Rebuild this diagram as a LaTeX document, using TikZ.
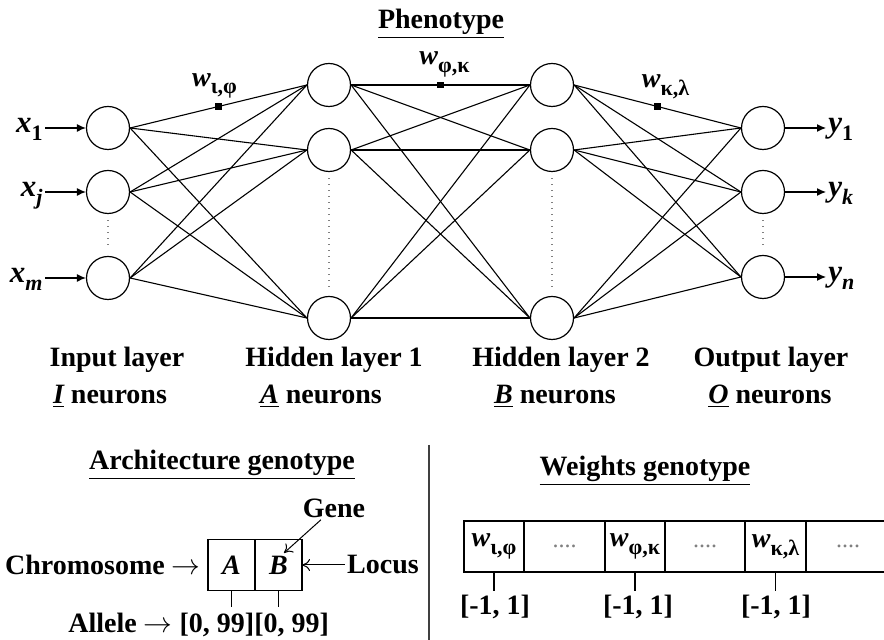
\documentclass[tikz,border=0pt]{standalone}
\usepackage{fontspec}
\setmainfont{Liberation Serif}
\usetikzlibrary{arrows.meta,positioning}
\newcommand{\lowsub}[1]{\raisebox{-3.8pt}{\fontsize{11}{11}\selectfont #1}}
\newcommand{\wlab}[1]{{\itshape w}\lowsub{#1}}
\newcommand{\celldots}{\textcolor{gray}{\mdseries\fontsize{12}{12}\selectfont....}}
\tikzset{
>=Latex,
neuron/.style={circle,draw,line width=0.6pt,minimum size=21.5pt,inner sep=0pt},
link/.style={line width=0.55pt},
feed/.style={-{Latex[length=4.5pt,width=4pt]},line width=0.6pt},
open arrow/.style={-{To[length=4pt,width=6pt]},line width=0.5pt},
gap/.style={gray,line width=0.7pt,dash pattern=on 0.7pt off 2.3pt,shorten >=3pt,shorten <=3pt},
weight mark/.style={fill,rectangle,minimum size=3.2pt,inner sep=0pt},
label text/.style={font=\fontsize{14}{16.5}\selectfont\bfseries,inner sep=1pt},
var text/.style={font=\fontsize{15.5}{17}\selectfont\bfseries,inner sep=1pt},
cell/.style={draw,line width=0.6pt,inner sep=0pt,outer sep=0pt,minimum height=25.5pt}}

\begin{document}
\begin{tikzpicture}[x=0.5pt,y=-0.5pt]
\path[use as bounding box,fill=white] (0,0) rectangle (884,640);

% the four layers
\foreach \n/\y in {1/128,2/192,3/278} \node[neuron] (i\n) at (108,\y) {};
\foreach \n/\y in {1/85,2/150,3/318} {
  \node[neuron] (h\n) at (329,\y) {};
  \node[neuron] (k\n) at (552,\y) {};
}
\foreach \n/\y in {1/128,2/192,3/277} \node[neuron] (o\n) at (763,\y) {};

\foreach \a in {1,2,3}
  \foreach \b in {1,2,3} {
    \draw[link] (i\a.east) -- (h\b.west);
    \draw[link] (h\a.east) -- (k\b.west);
    \draw[link] (k\a.east) -- (o\b.west);
  }

\draw[gap] (i2) -- (i3);
\draw[gap] (h2) -- (h3);
\draw[gap] (k2) -- (k3);
\draw[gap] (o2) -- (o3);

% weights on three of the links
\path (i1.east) -- node[weight mark] (m1) {} (h1.west);
\path (h1.east) -- node[weight mark] (m2) {} (k1.west);
\path (k1.east) -- node[weight mark] (m3) {} (o1.west);
\node[label text,above=1pt of m1,xshift=-2pt] (w1) {\wlab{ι,φ}};
\node[label text,above=1pt of m2,xshift=2pt] (w2) {\wlab{φ,κ}};
\node[label text,above=1pt of m3,xshift=4pt] (w3) {\wlab{κ,λ}};

% inputs and outputs
\node[var text,anchor=base east] (x1) at (45,133) {{\itshape x}\lowsub{1}};
\node[var text,anchor=base east] (x2) at (45,197) {{\itshape x}\lowsub{\itshape j}};
\node[var text,anchor=base east] (x3) at (45,283) {{\itshape x}\lowsub{\itshape m}};
\foreach \n in {1,2,3} \draw[feed] (x\n.east |- i\n) -- (i\n);

\node[var text,anchor=base west] (y1) at (826,133) {{\itshape y}\lowsub{1}};
\node[var text,anchor=base west] (y2) at (826,197) {{\itshape y}\lowsub{\itshape k}};
\node[var text,anchor=base west] (y3) at (826,282) {{\itshape y}\lowsub{\itshape n}};
\foreach \n in {1,2,3} \draw[feed] (o\n) -- (y\n.west |- o\n);

\node[label text] (pheno) at (441,24) {\underline{Phenotype}};

% layer names
\node[label text] (l1) at (117,360) {Input layer};
\node[label text] (l2) at (334,360) {Hidden layer 1};
\node[label text] (l3) at (561,360) {Hidden layer 2};
\node[label text] (l4) at (771,360) {Output layer};
\node[label text] (n1) at (110,396) {\underline{\itshape I} neurons};
\node[label text] (n2) at (321,396) {\underline{\itshape A} neurons};
\node[label text] (n3) at (555,396) {\underline{\itshape B} neurons};
\node[label text] (n4) at (770,396) {\underline{\itshape O} neurons};

% architecture genotype
\node[label text] (arch) at (222,465) {\underline{Architecture genotype}};
\node[cell,minimum width=23.5pt] (ca) at (231.5,565) {\fontsize{14}{16}\selectfont\bfseries\itshape A};
\node[cell,minimum width=23.5pt,right=0pt of ca] (cb) {\fontsize{14}{16}\selectfont\bfseries\itshape B};
\node[label text,anchor=east] (chrom) at (203,565) {Chromosome $\rightarrow$};
\node[label text] (locus) at (383,565) {Locus};
\draw[open arrow] (locus) -- (cb);
\node[label text] (gene) at (334,508) {Gene};
\coordinate (gene tip) at (284,553);
\draw[open arrow] (gene) -- (gene tip);
\draw[link] (ca.south) -- ++(0,17);
\draw[link] (cb.south) -- ++(0,17);
\node[label text,anchor=west] (allele) at (66,625) {Allele $\rightarrow$ [0, 99][0, 99]};

\coordinate (div top) at (429,445);
\coordinate (div bot) at (429,640);
\draw[black!75,line width=0.7pt] (div top) -- (div bot);

% weights genotype
\node[label text] (wgen) at (645,471) {\underline{Weights genotype}};
\node[cell,minimum width=30pt] (c1) at (494,546.5) {\fontsize{14}{16}\selectfont\bfseries\wlab{ι,φ}};
\node[cell,minimum width=40.5pt,right=0pt of c1] (c2) {\celldots};
\node[cell,minimum width=30pt,right=0pt of c2] (c3) {\fontsize{14}{16}\selectfont\bfseries\wlab{φ,κ}};
\node[cell,minimum width=40pt,right=0pt of c3] (c4) {\celldots};
\node[cell,minimum width=30.5pt,right=0pt of c4] (c5) {\fontsize{14}{16}\selectfont\bfseries\wlab{κ,λ}};
\node[cell,minimum width=42pt,right=0pt of c5] (c6) {\celldots};
\foreach \c/\x in {c1/495,c3/638,c5/776} {
  \draw[link] (\c.south) -- ++(0,19);
  \node[label text] at (\x,607) {[-1, 1]};
}
\end{tikzpicture}
\end{document}
